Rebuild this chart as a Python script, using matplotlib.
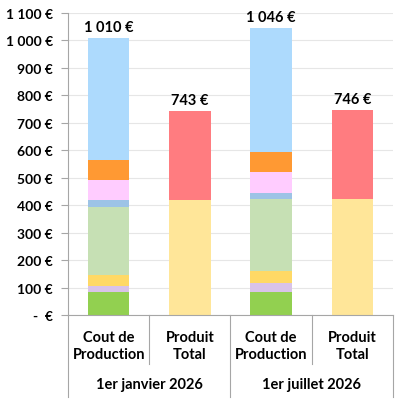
import matplotlib
matplotlib.use("Agg")
import matplotlib.pyplot as plt
import matplotlib.transforms as mtransforms

plt.rcParams['font.family'] = ['Lato', 'DejaVu Sans']

# données
categories = ["Cout de\nProduction", "Produit\nTotal", "Cout de\nProduction", "Produit\nTotal"]
groupes = ["1er janvier 2026", "1er juillet 2026"]

# barres de coût (du bas vers le haut)
cout_couleurs = ["#92D050", "#D9C3E9", "#FFD966", "#C6E0B4",
                 "#9DC3E6", "#FFCCFF", "#FF9933", "#ADDAFD"]
cout_janvier = [85, 22, 39, 249, 24, 74, 72, 445]
cout_juillet = [85, 33, 43, 262, 23, 75, 72, 453]

# barres de produit
produit_couleurs = ["#FFE699", "#FF7C80"]
produit_janvier = [420, 323]
produit_juillet = [424, 322]

totaux = [1010, 743, 1046, 746]

fig = plt.figure(figsize=(4.02, 4.02), dpi=100)
ax = fig.add_axes([68 / 402, 86 / 402, 325 / 402, 302 / 402])

largeur = 0.51
piles = [(0, cout_janvier, cout_couleurs), (1, produit_janvier, produit_couleurs),
         (2, cout_juillet, cout_couleurs), (3, produit_juillet, produit_couleurs)]
for x, valeurs, couleurs in piles:
    bas = 0
    for v, c in zip(valeurs, couleurs):
        ax.bar(x, v, bottom=bas, width=largeur, color=c, zorder=2)
        bas += v

for x, t in enumerate(totaux):
    txt = "{:,} €".format(t).replace(",", " ")
    ax.text(x, t + 14, txt, ha="center", va="bottom", fontsize=10.5, fontweight="bold")

ax.set_xlim(-0.5, 3.5)
ax.set_ylim(0, 1100)
yt = list(range(0, 1101, 100))
ax.set_yticks(yt)
ax.set_yticklabels(["-  €"] + ["{:,} €".format(v).replace(",", " ") for v in yt[1:]],
                   fontsize=10, fontweight="bold")
ax.tick_params(axis="y", length=5, color="#A6A6A6", pad=6)
ax.set_xticks([])
ax.grid(axis="y", color="#E6E6E6", linewidth=0.8, zorder=0)
for s in ["top", "right"]:
    ax.spines[s].set_visible(False)
ax.spines["left"].set_color("#A6A6A6")
ax.spines["bottom"].set_color("#A6A6A6")

# axe de catégories à deux niveaux
trans = mtransforms.blended_transform_factory(ax.transData, ax.transAxes)
for x in [-0.5, 1.5, 3.5]:
    ax.plot([x, x], [0, -0.272], color="#A6A6A6", lw=0.8, transform=trans, clip_on=False)
for x in [0.5, 2.5]:
    ax.plot([x, x], [0, -0.162], color="#A6A6A6", lw=0.8, transform=trans, clip_on=False)

for x, cat in enumerate(categories):
    ax.text(x, -0.05, cat, ha="center", va="top", transform=trans,
            fontsize=10.5, fontweight="bold", linespacing=1.25)
for i, g in enumerate(groupes):
    ax.text(2 * i + 0.5, -0.23, g, ha="center", va="center", transform=trans,
            fontsize=10.5, fontweight="bold")

fig.savefig("out.png", dpi=100)
